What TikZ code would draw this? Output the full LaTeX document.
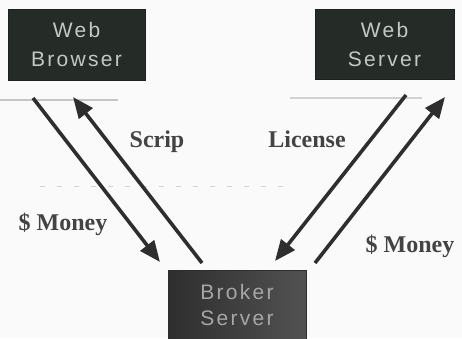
\documentclass[tikz,border=0pt]{standalone}
\usepackage{fontspec}
\usetikzlibrary{arrows.meta}
\newfontfamily\boxfont[LetterSpace=11]{Liberation Sans}
\newfontfamily\lblfont{Liberation Serif}
\definecolor{boxdark}{HTML}{252B27}
\definecolor{boxtext}{HTML}{C4C8C4}
\definecolor{inkgray}{HTML}{2E2E2E}
\tikzset{
  hostbox/.style={fill=boxdark, draw=boxdark!80!black, line width=0.6pt},
  hosttext/.style={font=\boxfont\fontsize{21}{29}\selectfont, text=boxtext, align=center, inner sep=0pt},
  flow/.style={draw=inkgray, line width=3.6pt, -{Triangle[length=21pt,width=17pt]}},
  flowlabel/.style={font=\lblfont\bfseries\fontsize{24}{28}\selectfont, text=inkgray!90!white, inner sep=0pt, anchor=base},
  scanline/.style={draw=gray!45, line width=1.2pt}
}
\begin{document}
\begin{tikzpicture}[x=1pt,y=-1pt]
\useasboundingbox (0,0) rectangle (462,338);
\fill[white!96!gray] (0,0) rectangle (462,338);

% faint rules beneath the top boxes
\draw[scanline] (0,100) -- (118,100);
\draw[scanline, gray!35] (290,98) -- (422,98);
\draw[gray!35, line width=1pt, dash pattern=on 5pt off 12pt] (40,186) -- (290,186);

% hosts
\node[hostbox, minimum width=137pt, minimum height=71pt, inner sep=0pt] (browser) at (76.5,44.5) {};
\node[hosttext] (browsertxt) at (browser.center) {Web\\Browser};
\node[hostbox, minimum width=139pt, minimum height=70pt, inner sep=0pt] (server) at (384.5,44) {};
\node[hosttext] (servertxt) at (server.center) {Web\\Server};

% broker (shaded, runs off the bottom edge)
\shade[left color=black!82, right color=black!68, draw=black!82] (168,270) rectangle (306,340);
\node[hosttext, text=gray!70, font=\boxfont\fontsize{21}{26}\selectfont] (brokertxt) at (237,305) {Broker\\Server};

% connector end points
\coordinate (b1) at (33,98);   \coordinate (k1) at (160,262);
\coordinate (k2) at (202,263); \coordinate (b2) at (73,97);
\coordinate (s1) at (406,95);  \coordinate (k3) at (275,261);
\coordinate (k4) at (315,263); \coordinate (s2) at (445,97);

\draw[flow] (b1) -- (k1);
\draw[flow] (k2) -- (b2);
\draw[flow] (s1) -- (k3);
\draw[flow] (k4) -- (s2);

% labels
\node[flowlabel] (scrip) at (157,147) {Scrip};
\node[flowlabel] (license) at (307,147) {License};
\node[flowlabel] (moneyL) at (63,230) {\$ Money};
\node[flowlabel] (moneyR) at (410,252) {\$ Money};
\end{tikzpicture}
\end{document}
